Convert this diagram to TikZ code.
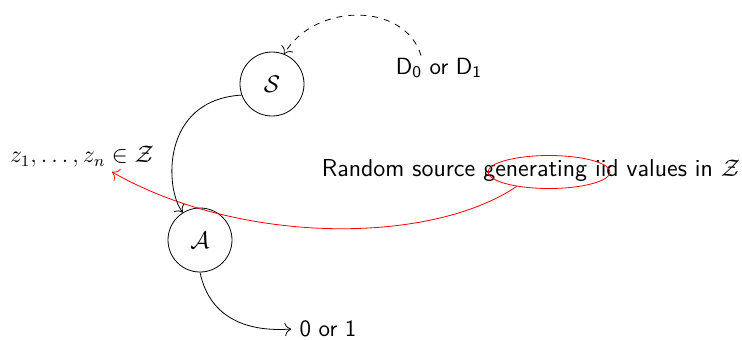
\documentclass[tikz,border=0pt]{standalone}
\usetikzlibrary{shapes.geometric,arrows.meta}
\begin{document}
\begin{tikzpicture}[x=0.5pt,y=-0.5pt,
  every node/.style={font=\fontsize{11.7}{14}\selectfont},
  agent/.style={circle,draw,minimum size=32pt,inner sep=0pt},
  lbl/.style={font=\fontsize{11.7}{14}\selectfont\sffamily,inner sep=1pt},
  conn/.style={-{To[scale=1.3]}}]
\useasboundingbox (0,0) rectangle (742,339);
\node[agent] (S) at (272,84) {$\mathcal{S}$};
\node[agent] (A) at (200,240) {$\mathcal{A}$};
\node[lbl] (D) at (439,68) {D\textsubscript{0} or D\textsubscript{1}};
\node[inner sep=1pt] (Z) at (82,157) {$z_1,\ldots,z_n\in\mathcal{Z}$};
\node[lbl,font=\fontsize{12.25}{15}\selectfont\sffamily] (R) at (531,170) {Random source generating iid values in $\mathcal{Z}$};
\node[ellipse,draw=red,minimum width=61pt,minimum height=16.5pt,inner sep=0pt] (E) at (549,172) {};
\node[lbl,inner sep=4pt] (O) at (328,329) {0 or 1};
\draw[conn,dashed] ([xshift=-9pt]D.north) .. controls (405,2) and (315,2) .. (S.68);
\draw[conn] (S.200) .. controls (160,100) and (165,190) .. (A.122);
\draw[conn] (A.270) .. controls (210,320) and (250,332) .. (O.west);
\draw[conn,red] (E.204) .. controls (430,245) and (240,245) .. ([xshift=15pt,yshift=-1pt]Z.south);
\end{tikzpicture}
\end{document}
